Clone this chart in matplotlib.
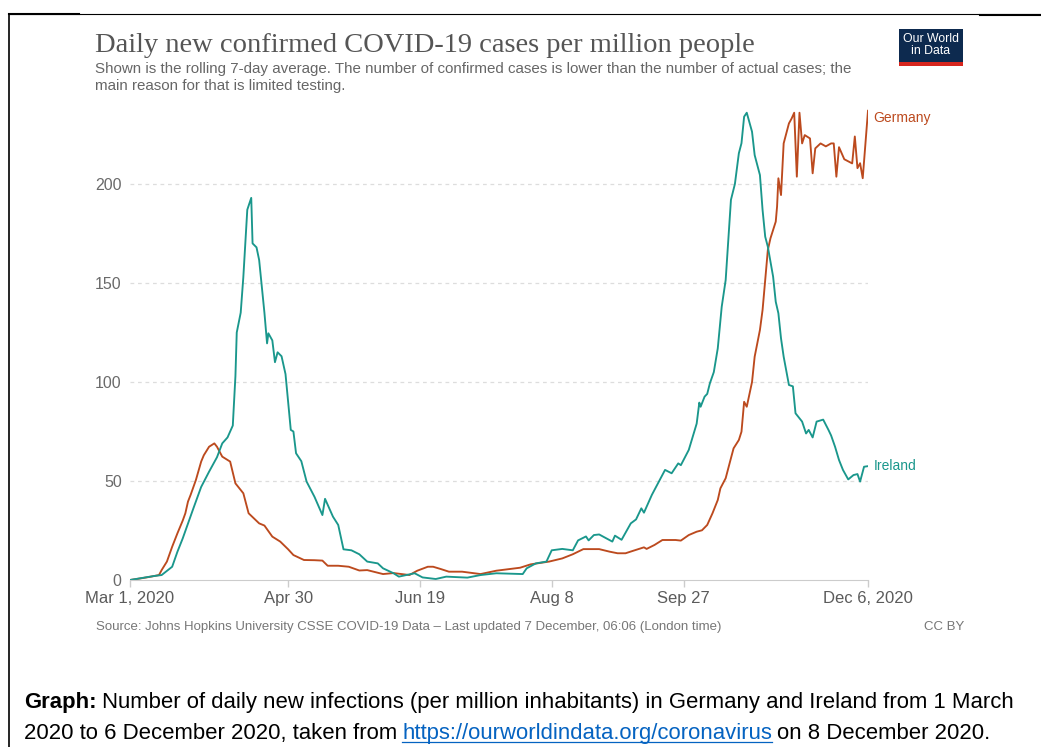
import matplotlib
matplotlib.use("Agg")
import matplotlib.pyplot as plt
import pandas as pd
from matplotlib.lines import Line2D
from matplotlib.patches import Rectangle

# Daily new confirmed cases per million, rolling 7-day average
# days are offsets from 1 March 2020
start = pd.Timestamp("2020-03-01")

germany_days = [0, 4, 8, 11, 12, 14, 16, 18, 20, 21, 22, 23, 25, 27, 28, 30, 32, 33,
                35, 38, 40, 43, 45, 49, 51, 54, 57, 60, 62, 66, 70, 73, 75, 79, 83, 87,
                90, 96, 100, 106, 109, 113, 115, 118, 121, 126, 133, 139, 148, 152, 159,
                164, 168, 172, 175, 178, 182, 185, 188, 191, 195, 196, 199, 202, 207,
                209, 212, 215, 217, 219, 221, 223, 224, 226, 228, 229, 231, 232, 233,
                234, 236, 237, 239, 240, 241, 242, 243, 245, 245.5, 246, 247, 248, 250,
                251, 252, 253, 254, 255, 256, 258, 259, 260, 262, 264, 266, 267, 268,
                269, 271, 274, 275, 276, 277, 278, 280]
germany_vals = [0, 0.8, 1.7, 2.5, 5, 9.3, 16.8, 23.6, 30, 33.7, 39.6, 43, 50.5, 59.8, 63,
                67.3, 69, 67.3, 62.3, 59.8, 48.8, 43.8, 33.7, 28.6, 27.5, 21.9, 19.4,
                15.5, 12.6, 10.1, 10, 9.8, 7.2, 7.2, 6.7, 4.8, 5, 3, 3.5, 2.5, 4.7, 6.7,
                6.7, 5.5, 4.2, 4.2, 3, 4.7, 6.2, 7.9, 9.3, 10.9, 13, 15.6, 15.6, 15.6,
                14.3, 13.5, 13.5, 14.8, 16.5, 15.7, 17.7, 20.2, 20.2, 19.9, 22.7, 24.4,
                25.1, 27.8, 33.7, 40.4, 46.3, 51.4, 61.5, 66.5, 70.7, 74.9, 90, 87.5,
                100, 112.8, 126.3, 136.4, 151.5, 166.7, 172.6, 181, 188.6, 202.9, 194.4,
                220.5, 230.6, 233, 236, 203.7, 236, 220.5, 224.7, 223, 205.4, 218, 220.5,
                219, 220.5, 220.5, 203.7, 218.6, 212.5, 210.4, 224, 208, 210.5, 202.9,
                237]

ireland_days = [0, 9, 12, 16, 18, 20, 24, 27, 30, 33, 35, 37, 39, 40, 40.5, 42, 43, 44.5,
                46, 46.5, 48, 49, 51, 52, 52.5, 54, 55, 56, 57.5, 59, 61, 62, 63, 65, 67,
                70, 73, 74, 77, 79, 81, 84, 87, 90, 94, 96, 100, 102, 108, 111, 116,
                120, 128, 133, 139, 149, 150.5, 154, 158, 160, 164, 168, 170, 173, 174,
                176, 178, 183, 184, 186.5, 190, 192, 194, 195, 198, 200, 203, 205.5, 208,
                209, 212, 215, 216, 216.5, 218, 219, 220, 221.5, 223, 224.5, 226, 227,
                228, 229.5, 231, 232, 233, 234, 236, 237, 239, 240, 241, 242, 244, 245,
                246, 247, 248, 250, 251.5, 252.5, 255, 256.5, 257.5, 259, 260.5, 263, 265,
                266, 267.5, 269, 270.5, 272.5, 274.5, 276, 277, 278.5, 280]
ireland_vals = [0, 2, 2.5, 6.7, 14.3, 21, 36, 47, 54.7, 62, 69, 72, 78, 103, 125, 135,
                153, 187, 193, 170, 168, 161.6, 135, 119.5, 124.6, 121, 110, 115, 113,
                104, 75.8, 75, 64, 60, 49.7, 42, 32.8, 41, 32, 27.8, 15.5, 15, 13, 9.3,
                8.4, 5.9, 3.4, 1.7, 3.4, 1.3, 0.5, 1.7, 1.2, 2.5, 3.4, 3, 5.9, 8.4, 9.3,
                15, 15.7, 15, 20, 22, 20, 22.7, 23, 19.4, 22.4, 20.3, 28.6, 30.6, 36.2,
                34, 43, 48, 55.6, 53.9, 58.9, 58, 65.7, 79, 89.6, 87.5, 92.6, 94, 99.3,
                105, 117, 138, 151.5, 171.7, 192, 200, 215.5, 220.6, 234, 236, 226.4,
                214.6, 204.5, 186.9, 173.4, 168.3, 153.2, 140.5, 134.7, 122, 112.8, 98.5,
                97.8, 84.2, 80, 74, 75.8, 72, 80, 81, 75.8, 73, 67.3, 60.6, 55.6, 50.8,
                53, 53.5, 49.7, 57.2, 57.5]

tick_days = [0, 60, 110, 160, 210, 280]
tick_labels = ["Mar 1, 2020", "Apr 30", "Jun 19", "Aug 8", "Sep 27", "Dec 6, 2020"]
y_ticks = [0, 50, 100, 150, 200]

germany_color = "#bc4a1e"
ireland_color = "#1a978c"

germany_dates = start + pd.to_timedelta(germany_days, unit="D")
ireland_dates = start + pd.to_timedelta(ireland_days, unit="D")
tick_dates = start + pd.to_timedelta(tick_days, unit="D")

plt.rcParams["font.family"] = ["Liberation Sans", "DejaVu Sans"]

W, H = 1041, 747
fig = plt.figure(figsize=(W / 100, H / 100), dpi=100)
ax = fig.add_axes([130 / W, 1 - 580 / H, 738 / W, (580 - 104.8) / H])

ax.plot(germany_dates, germany_vals, color=germany_color, lw=1.35)
ax.plot(ireland_dates, ireland_vals, color=ireland_color, lw=1.35)

ax.set_xlim(tick_dates[0], tick_dates[-1])
ax.set_ylim(0, 240)
ax.set_xticks(tick_dates)
ax.set_xticklabels(tick_labels)
ax.set_yticks(y_ticks)
ax.set_yticklabels([str(v) for v in y_ticks])

for s in ["top", "right", "left"]:
    ax.spines[s].set_visible(False)
ax.spines["bottom"].set_color("#cccccc")
ax.tick_params(axis="x", colors="#cccccc", length=5, width=1, labelcolor="#5b5b5b",
               labelsize=12, pad=3)
ax.tick_params(axis="y", length=0, labelcolor="#6a6a6a", labelsize=11.5, pad=6)
for v in y_ticks[1:]:
    ax.axhline(v, color="#dddddd", lw=0.9, ls=(0, (3, 3)), zorder=0)

# end-of-line labels
ax.text(start + pd.Timedelta(days=282), 233.5, "Germany", color=germany_color,
        fontsize=10, va="center", ha="left", clip_on=False)
ax.text(start + pd.Timedelta(days=282), 57.5, "Ireland", color=ireland_color,
        fontsize=10, va="center", ha="left", clip_on=False)

# header
fig.text(95 / W, 1 - 52 / H, "Daily new confirmed COVID-19 cases per million people",
         family="Liberation Serif", fontsize=20.5, color="#555555", va="baseline")
fig.text(95 / W, 1 - 73 / H,
         "Shown is the rolling 7-day average. The number of confirmed cases is lower than "
         "the number of actual cases; the", fontsize=10.9, color="#666666", va="baseline")
fig.text(95 / W, 1 - 90 / H, "main reason for that is limited testing.",
         fontsize=10.9, color="#666666", va="baseline")

# logo
fig.patches.append(Rectangle((899 / W, 1 - 66 / H), 64 / W, 37 / H, transform=fig.transFigure,
                             facecolor="#0d2a4f", edgecolor="none"))
fig.patches.append(Rectangle((899 / W, 1 - 66 / H), 64 / W, 4 / H, transform=fig.transFigure,
                             facecolor="#d7261e", edgecolor="none"))
fig.text(931 / W, 1 - 45 / H, "Our World\nin Data", color="white", fontsize=8.8,
         ha="center", va="center", linespacing=0.95)

# footer
fig.text(96 / W, 1 - 630 / H,
         "Source: Johns Hopkins University CSSE COVID-19 Data \u2013 Last updated 7 December, "
         "06:06 (London time)", fontsize=9.5, color="#777777", va="baseline")
fig.text(964 / W, 1 - 630 / H, "CC BY", fontsize=9.5, color="#777777", ha="right",
         va="baseline")

# caption below the chart, written as runs placed one after another
renderer = fig.canvas.get_renderer()
line1 = ("Graph:", "Number of daily new infections (per million inhabitants) in Germany "
         "and Ireland from 1 March")

# pick a caption size so that the first line spans the same width as in the source
probe = fig.text(0, 0, line1[0] + " " + line1[1], fontsize=14)
cap_size = 14 * 992 / probe.get_window_extent(renderer).width
probe.remove()
cap = dict(fontsize=cap_size, color="black", va="baseline")


def run(x_px, y_px, s, **kw):
    t = fig.text(x_px / W, 1 - y_px / H, s, **{**cap, **kw})
    bb = t.get_window_extent(renderer)
    return bb.x1, bb


x = run(24, 708, line1[0], weight="bold")[0]
run(x + 5, 708, line1[1])
x = run(24, 739, "2020 to 6 December 2020, taken from")[0]
x_link, bb = run(x + 5, 739, "https://ourworldindata.org/coronavirus", color="#0563c1")
fig.add_artist(Line2D([bb.x0 / W, bb.x1 / W], [1 - 742 / H] * 2, color="#0563c1", lw=0.9))
run(x_link + 5, 739, "on 8 December 2020.")

# table border
fig.add_artist(Line2D([9 / W, 1], [1 - 14 / H] * 2, color="black", lw=0.8))
fig.add_artist(Line2D([9 / W, 79 / W], [1 - 14 / H] * 2, color="black", lw=1.5))
fig.add_artist(Line2D([980 / W, 1], [1 - 14.5 / H] * 2, color="black", lw=1.5))
fig.add_artist(Line2D([9 / W, 9 / W], [0, 1 - 14 / H], color="black", lw=1.2))

fig.savefig("out.png", dpi=100)
